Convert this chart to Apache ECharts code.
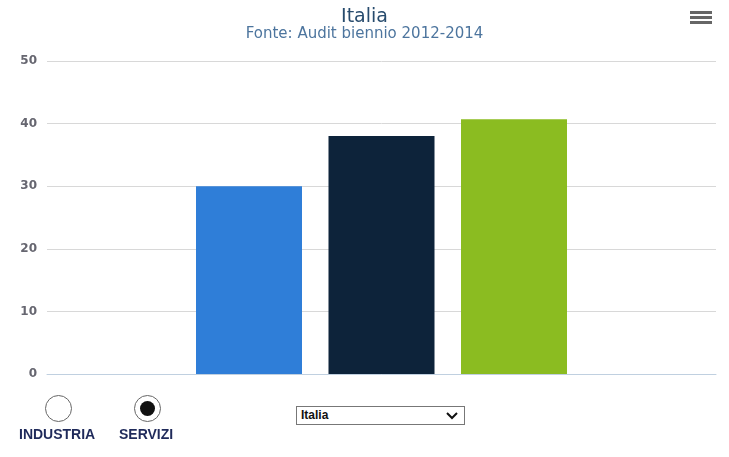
<!DOCTYPE html>
<html><head><meta charset="utf-8">
<script src="https://cdn.jsdelivr.net/npm/echarts@6/dist/echarts.min.js"></script>
<style>
html,body{margin:0;padding:0;background:#fff;}
#chart{position:absolute;left:0;top:0;width:729px;height:457px;}
.radio{position:absolute;width:27px;height:27px;border:1px solid #666;border-radius:50%;box-sizing:border-box;background:#fff;}
.radio .dot{position:absolute;left:5px;top:5px;width:15px;height:15px;border-radius:50%;background:#111;}
.lbl{position:absolute;font-family:"Liberation Sans",sans-serif;font-weight:bold;font-size:14px;color:#1f2a5a;}
.sel{position:absolute;left:296px;top:406px;width:169px;height:19px;border:1px solid #777;box-sizing:border-box;font-family:"Liberation Sans",sans-serif;font-size:12px;font-weight:bold;color:#111;line-height:17px;padding-left:4px;background:#fff;}
.sel svg{position:absolute;right:6px;top:5px;}
</style></head>
<body>
<div id="chart"></div>
<div class="radio" style="left:45px;top:395px;"></div>
<div class="radio" style="left:134px;top:395px;"><div class="dot"></div></div>
<div class="lbl" style="left:19px;top:426px;">INDUSTRIA</div>
<div class="lbl" style="left:119px;top:426px;">SERVIZI</div>
<div class="sel">Italia<svg width="12" height="8" viewBox="0 0 12 8"><path d="M1 1 L6 6 L11 1" stroke="#111" stroke-width="2" fill="none"/></svg></div>
<script>
var categories = ['Italia'];
var seriesNames = ['Serie 1', 'Serie 2', 'Serie 3'];
var seriesValues = [[30], [38], [40.7]];
var colors = ['#2f7ed8', '#0d233a', '#8bbc21'];
var yTicks = [0, 10, 20, 30, 40, 50];

var chart = echarts.init(document.getElementById('chart'));
chart.setOption({
  animation: false,
  title: {
    text: 'Italia',
    subtext: 'Fonte: Audit biennio 2012-2014',
    left: 'center', top: 3, itemGap: 0,
    textStyle: {color: '#274b6d', fontSize: 19, fontWeight: 'normal', fontFamily: 'DejaVu Sans'},
    subtextStyle: {color: '#4d759e', fontSize: 15, fontFamily: 'DejaVu Sans'}
  },
  grid: {left: 47, right: 13, top: 61, bottom: 83},
  xAxis: {
    type: 'category', data: categories,
    axisLine: {lineStyle: {color: '#c0d0e0'}},
    axisTick: {show: false}, axisLabel: {show: false}
  },
  yAxis: {
    type: 'value', min: yTicks[0], max: yTicks[yTicks.length - 1], interval: 10,
    axisLine: {show: false}, axisTick: {show: false},
    axisLabel: {color: '#666670', fontSize: 12, fontWeight: 'bold', fontFamily: 'DejaVu Sans', margin: 10},
    splitLine: {lineStyle: {color: '#d8d8d8'}}
  },
  graphic: [
    {type: 'rect', shape: {x: 690, y: 11, width: 22, height: 3}, style: {fill: '#666'}},
    {type: 'rect', shape: {x: 690, y: 16, width: 22, height: 3}, style: {fill: '#666'}},
    {type: 'rect', shape: {x: 690, y: 21, width: 22, height: 3}, style: {fill: '#666'}}
  ],
  series: seriesNames.map(function (n, i) {
    return {
      name: n, type: 'bar', data: seriesValues[i], barWidth: 106, barGap: '25%',
      itemStyle: {color: colors[i]}
    };
  })
});
</script>
</body></html>
